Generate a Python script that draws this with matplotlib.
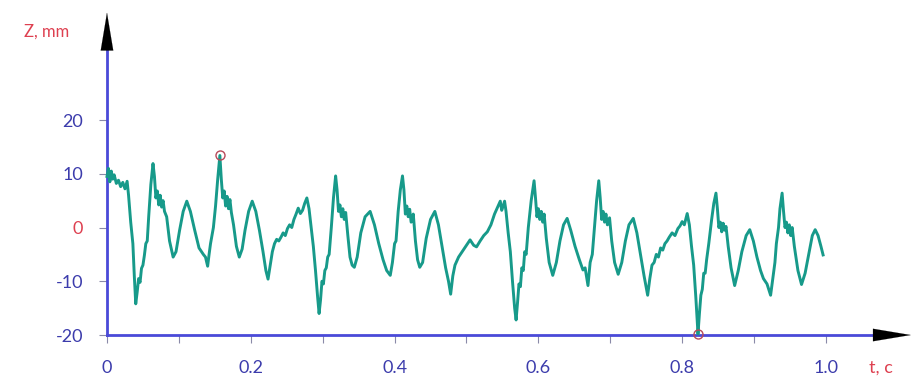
import numpy as np
import matplotlib
matplotlib.use('Agg')
import matplotlib.pyplot as plt

# signal: time (s) and displacement Z (mm)
t_s = [0.000, 0.002, 0.004, 0.006, 0.008, 0.010, 0.013, 0.016, 0.019, 0.022,
       0.025, 0.028, 0.030, 0.033, 0.036, 0.038, 0.040, 0.042, 0.044, 0.046,
       0.048, 0.050, 0.052, 0.054, 0.056, 0.058, 0.061, 0.064, 0.066, 0.068,
       0.070, 0.072, 0.074, 0.076, 0.078, 0.080, 0.083, 0.087, 0.092, 0.096,
       0.101, 0.106, 0.111, 0.116, 0.122, 0.128, 0.134, 0.137, 0.140, 0.142,
       0.144, 0.146, 0.148, 0.151, 0.154, 0.157, 0.159, 0.161, 0.163, 0.165,
       0.167, 0.169, 0.171, 0.173, 0.176, 0.180, 0.184, 0.188, 0.192, 0.197,
       0.202, 0.207, 0.212, 0.217, 0.221, 0.224, 0.227, 0.230, 0.233, 0.236,
       0.239, 0.242, 0.245, 0.248, 0.251, 0.254, 0.257, 0.260, 0.263, 0.266,
       0.269, 0.272, 0.275, 0.278, 0.281, 0.284, 0.287, 0.290, 0.293, 0.295,
       0.297, 0.299, 0.301, 0.303, 0.305, 0.307, 0.309, 0.312, 0.315, 0.318,
       0.320, 0.322, 0.324, 0.326, 0.328, 0.330, 0.332, 0.335, 0.338, 0.341,
       0.344, 0.348, 0.353, 0.359, 0.366, 0.372, 0.378, 0.384, 0.389, 0.394,
       0.397, 0.400, 0.402, 0.405, 0.408, 0.411, 0.413, 0.415, 0.417, 0.419,
       0.421, 0.423, 0.426, 0.429, 0.432, 0.435, 0.439, 0.444, 0.450, 0.456,
       0.461, 0.466, 0.471, 0.475, 0.478, 0.481, 0.484, 0.489, 0.494, 0.499,
       0.505, 0.510, 0.514, 0.519, 0.524, 0.529, 0.534, 0.539, 0.544, 0.547,
       0.549, 0.551, 0.553, 0.555, 0.558, 0.561, 0.564, 0.567, 0.569, 0.571,
       0.573, 0.575, 0.577, 0.579, 0.581, 0.583, 0.586, 0.590, 0.594, 0.596,
       0.598, 0.600, 0.602, 0.604, 0.606, 0.608, 0.611, 0.615, 0.620, 0.625,
       0.630, 0.635, 0.640, 0.645, 0.651, 0.657, 0.662, 0.665, 0.669, 0.672,
       0.675, 0.678, 0.681, 0.684, 0.686, 0.688, 0.690, 0.692, 0.694, 0.696,
       0.699, 0.702, 0.706, 0.711, 0.716, 0.721, 0.726, 0.732, 0.737, 0.742,
       0.747, 0.752, 0.755, 0.758, 0.761, 0.764, 0.767, 0.770, 0.773, 0.776,
       0.779, 0.782, 0.786, 0.790, 0.794, 0.797, 0.800, 0.803, 0.807, 0.810,
       0.813, 0.816, 0.819, 0.822, 0.824, 0.826, 0.828, 0.830, 0.832, 0.834,
       0.837, 0.841, 0.844, 0.847, 0.849, 0.851, 0.853, 0.855, 0.857, 0.859,
       0.861, 0.864, 0.868, 0.873, 0.878, 0.883, 0.889, 0.894, 0.899, 0.904,
       0.909, 0.913, 0.918, 0.923, 0.926, 0.929, 0.931, 0.934, 0.936, 0.939,
       0.941, 0.943, 0.945, 0.947, 0.949, 0.951, 0.953, 0.956, 0.961, 0.966,
       0.971, 0.976, 0.981, 0.985, 0.989, 0.993, 0.996]
z_mm = [9.5, 11.0, 8.5, 10.5, 9.0, 9.8, 8.2, 8.8, 7.6, 8.4,
        7.2, 8.6, 6.0, 1.0, -3.0, -9.0, -14.2, -12.0, -9.5, -10.2,
        -7.6, -7.0, -5.2, -3.0, -2.5, 2.0, 8.0, 11.9, 9.5, 5.5,
        6.8, 4.2, 6.0, 3.8, 5.0, 3.0, 2.0, -2.5, -5.5, -4.5,
        -0.5, 3.0, 4.9, 3.0, -0.5, -3.8, -5.0, -5.5, -7.2, -5.0,
        -3.0, -1.5, 0.0, 4.0, 9.0, 13.4, 9.0, 5.5, 6.8, 4.0,
        5.8, 3.5, 5.2, 2.8, 0.5, -3.5, -5.5, -4.0, -0.5, 3.0,
        4.9, 3.0, -0.5, -4.5, -8.0, -9.6, -7.0, -4.5, -3.0, -2.2,
        -2.5, -1.8, -1.0, -1.5, -0.2, 0.5, 0.0, 1.5, 2.5, 3.6,
        2.6, 3.2, 4.5, 5.5, 3.5, 0.0, -3.5, -8.0, -13.0, -16.0,
        -13.5, -10.0, -10.5, -8.0, -7.5, -5.5, -5.0, 0.0, 5.5, 9.6,
        7.0, 3.0, 4.2, 2.0, 3.5, 1.5, 2.8, -1.5, -5.5, -7.0,
        -7.4, -5.5, -1.0, 2.0, 3.0, 0.5, -3.0, -6.0, -8.0, -8.9,
        -6.5, -3.0, -2.5, 3.0, 7.0, 9.6, 7.0, 2.5, 4.0, 2.0,
        3.4, 1.0, 2.5, -2.5, -6.0, -7.4, -6.5, -2.0, 1.5, 3.0,
        0.5, -3.5, -7.5, -10.0, -12.4, -9.0, -7.0, -5.5, -4.5, -3.5,
        -2.3, -3.3, -3.6, -2.5, -1.5, -0.8, 0.5, 2.5, 4.0, 4.9,
        3.2, 4.0, 4.9, 3.0, -1.0, -4.5, -10.0, -15.0, -17.2, -14.0,
        -10.5, -11.0, -7.5, -8.0, -4.5, -5.0, 0.0, 5.0, 8.7, 5.5,
        2.0, 3.5, 1.5, 3.0, 1.0, 2.5, -2.0, -6.5, -8.9, -6.5,
        -2.5, 0.5, 1.7, -0.5, -3.5, -6.0, -7.9, -7.5, -10.8, -6.5,
        -5.0, 0.0, 5.0, 8.7, 5.5, 1.5, 3.0, 1.0, 2.5, 0.5,
        1.8, -2.5, -6.5, -8.7, -6.5, -2.5, 0.5, 1.7, -1.0, -5.0,
        -9.0, -12.6, -9.5, -7.0, -6.5, -5.0, -5.5, -3.8, -4.2, -3.0,
        -2.5, -1.8, -1.0, -1.5, -0.2, 0.3, 1.1, 0.5, 2.6, 0.5,
        -3.5, -7.0, -13.0, -19.8, -16.0, -12.6, -11.5, -8.5, -8.5, -6.0,
        -3.0, 1.5, 4.5, 6.4, 3.5, 0.0, 1.0, -0.8, 0.8, -0.5,
        0.2, -3.5, -7.5, -10.8, -8.0, -4.5, -1.5, -0.4, -2.5, -5.5,
        -8.0, -9.5, -10.5, -12.6, -9.5, -6.5, -3.0, 0.0, 3.5, 6.4,
        3.0, 0.0, 1.0, -1.0, 0.5, -1.5, 0.0, -3.5, -8.0, -10.6,
        -8.5, -5.0, -1.5, -0.4, -1.5, -3.5, -5.1]

x_major = [0, 0.2, 0.4, 0.6, 0.8, 1.0]
x_labels = ['0', '0.2', '0.4', '0.6', '0.8', '1.0']
x_minor = [0.1, 0.3, 0.5, 0.7, 0.9]
y_ticks = [-20, -10, 0, 10, 20]

AXIS_BLUE = '#4a4ad8'
LABEL_BLUE = '#3c3cac'
RED = '#de4050'
TEAL = '#179a8a'

plt.rcParams['font.family'] = ['Lato', 'DejaVu Sans']

fig = plt.figure(figsize=(9.18, 3.85), dpi=100)
ax = fig.add_axes([0, 0, 1, 1])
ax.set_xlim(-0.1488, 1.128)
ax.set_ylim(-29.3, 42.33)

t = np.array(t_s)
z = np.array(z_mm)
ax.plot(t, z, color=TEAL, lw=2.1, zorder=3)

# extreme points marked with small open circles
i_max, i_min = np.argmax(z), np.argmin(z)
ax.plot(t[[i_max, i_min]], z[[i_max, i_min]], 'o', ms=6.5, mfc='none',
        mec='#b84a5a', mew=1.0, zorder=4)

# axes through the corner (0, -20), with arrow heads
for side in ['top', 'right']:
    ax.spines[side].set_visible(False)
ax.spines['left'].set_position(('data', 0))
ax.spines['bottom'].set_position(('data', -20))
ax.spines['left'].set_bounds(-20, 33.0)
ax.spines['bottom'].set_bounds(0, 1.08)
for side in ['left', 'bottom']:
    ax.spines[side].set_color(AXIS_BLUE)
    ax.spines[side].set_linewidth(2.0)

ax.annotate('', xy=(0, 40.5), xytext=(0, 32.5),
            arrowprops=dict(arrowstyle='-|>,head_length=2.7,head_width=0.45',
                            color='black', lw=0.1), annotation_clip=False)
ax.annotate('', xy=(1.122, -20), xytext=(1.075, -20),
            arrowprops=dict(arrowstyle='-|>,head_length=2.7,head_width=0.45',
                            color='black', lw=0.1), annotation_clip=False)

ax.set_xticks(x_major)
ax.set_xticklabels(x_labels)
ax.set_xticks(x_minor, minor=True)
ax.set_yticks(y_ticks)
ax.set_yticklabels([str(v) for v in y_ticks])
ax.tick_params(axis='both', which='both', direction='out', length=6,
               width=0.8, color='#8a8aa8', labelcolor=LABEL_BLUE, labelsize=13)
ax.tick_params(axis='x', pad=12)
ax.tick_params(axis='y', pad=11)
# zero on the Z axis is printed in red
for lbl in ax.get_yticklabels():
    if lbl.get_text() == '0':
        lbl.set_color(RED)

ax.text(-0.116, 36.4, 'Z, mm', color=RED, fontsize=12, va='center', ha='left')
ax.text(1.06, -26.0, 't, c', color=RED, fontsize=13, va='center', ha='left')

fig.savefig('out.png', dpi=100)
